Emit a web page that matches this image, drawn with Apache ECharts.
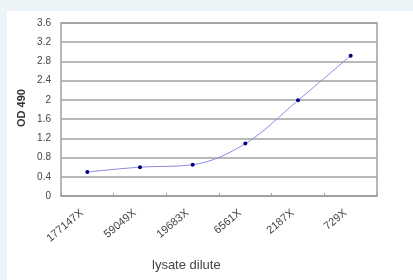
<!DOCTYPE html>
<html lang="en">
<head>
    <meta charset="UTF-8">
    <title>OD 490</title>
    <style>
        html, body {
            margin: 0;
            width: 100%;
            height: 100%;
            background: #edf4f7;
            overflow: hidden;
        }

        #container {
            position: absolute;
            left: 7px;
            top: 11px;
            width: 406px;
            height: 269px;
            background: #ffffff;
        }
    </style>
</head>
<body>
<div id="container"></div>
<script src="https://cdn.jsdelivr.net/npm/echarts@6/dist/echarts.min.js"></script>
<script>
    // dilutions and OD readings
    var dilutions = ['177147X', '59049X', '19683X', '6561X', '2187X', '729X'];
    var od490 = [0.50, 0.60, 0.65, 1.09, 1.99, 2.92];

    var myChart = echarts.init(document.getElementById('container'));
    var option = {
        animation: false,
        textStyle: {fontFamily: 'Liberation Sans, Arial, sans-serif'},
        grid: {
            left: 54,
            top: 12,
            right: 36,
            bottom: 84,
            show: true,
            borderColor: '#a0a0a0',
            borderWidth: 1.5
        },
        graphic: [
            {
                type: 'text',
                left: 145,
                top: 248,
                style: {text: 'lysate dilute', fontSize: 13, fill: '#444', fontFamily: 'Liberation Sans, Arial, sans-serif'}
            },
            {
                type: 'text',
                x: 9,
                y: 116,
                rotation: Math.PI / 2,
                style: {text: 'OD 490', fontSize: 11, fontWeight: 'bold', fill: '#333', fontFamily: 'Liberation Sans, Arial, sans-serif'}
            }
        ],
        xAxis: {
            type: 'category',
            data: dilutions,
            boundaryGap: true,
            axisLine: {lineStyle: {color: '#a0a0a0', width: 1.5}},
            axisTick: {show: true, inside: true, length: 3, lineStyle: {color: '#a0a0a0'}},
            axisLabel: {rotate: 40, fontSize: 11, color: '#444', margin: 11, padding: [0, 7, 0, 0]}
        },
        yAxis: {
            type: 'value',
            min: 0,
            max: 3.6,
            interval: 0.4,
            axisLine: {show: false},
            axisTick: {show: false},
            axisLabel: {
                fontSize: 10,
                color: '#444',
                margin: 10,
                formatter: function (v) {
                    return String(Math.round(v * 10) / 10);
                }
            },
            splitLine: {lineStyle: {color: '#a0a0a0', width: 1.5}}
        },
        series: [
            {
                name: 'OD 490',
                type: 'line',
                smooth: 0.35,
                data: od490,
                symbol: 'circle',
                symbolSize: 4,
                lineStyle: {color: '#8a8ae0', width: 1},
                itemStyle: {color: '#000080'}
            }
        ]
    };
    myChart.setOption(option);
</script>
</body>
</html>
